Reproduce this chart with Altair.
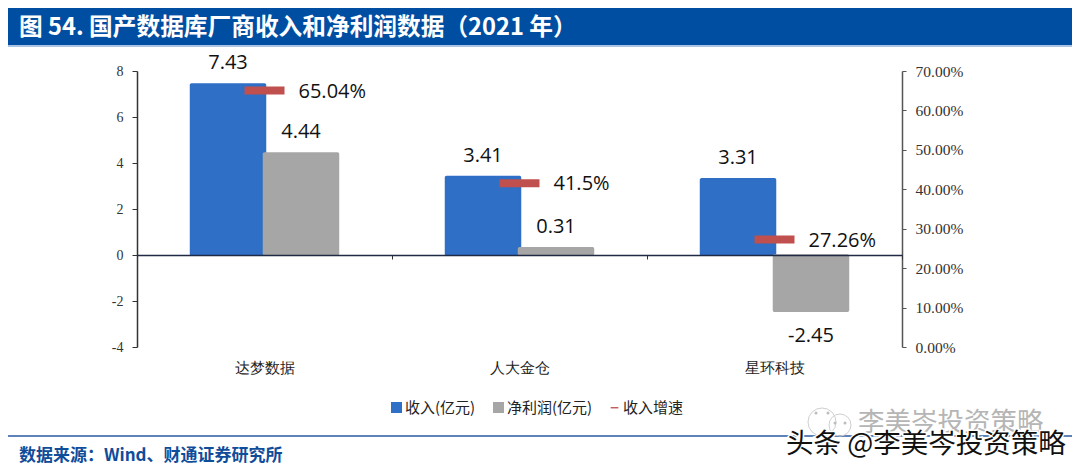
import altair as alt
import pandas as pd

categories = ["达梦数据", "人大金仓", "星环科技"]
revenue = [7.43, 3.41, 3.31]
profit = [4.44, 0.31, -2.45]
revenue_labels = ["7.43", "3.41", "3.31"]
profit_labels = ["4.44", "0.31", "-2.45"]
growth = [0.6504, 0.415, 0.2726]
growth_labels = ["65.04%", "41.5%", "27.26%"]
series_names = ["收入(亿元)", "净利润(亿元)", "收入增速"]
series_colors = ["#2f6fc6", "#a6a6a6", "#c0504d"]
title_text = "图 54. 国产数据库厂商收入和净利润数据（2021 年）"
source_text = "数据来源：Wind、财通证券研究所"
wm_grey = "李美岑投资策略"
wm_black = "头条 @李美岑投资策略"

SANS = "Open Sans, Noto Sans CJK SC"
SERIF = "Liberation Serif"

bars = pd.DataFrame(
    [{"cat": c, "s": series_names[0], "v": v, "t": t} for c, v, t in zip(categories, revenue, revenue_labels)]
    + [{"cat": c, "s": series_names[1], "v": v, "t": t} for c, v, t in zip(categories, profit, profit_labels)]
)
growth_df = pd.DataFrame({"cat": categories, "g": growth, "label": growth_labels})
legend_df = pd.DataFrame({"s": series_names})

x_scale = alt.Scale(paddingInner=0, paddingOuter=0)
x_main = alt.X("cat:N", sort=categories, title=None, scale=x_scale,
               axis=alt.Axis(domain=False, ticks=False, labelAngle=0, labelFont=SERIF, labelFontSize=15,
                             labelColor="#222222", labelPadding=13))
x_zero = alt.X("cat:N", sort=categories, title=None, scale=x_scale,
               axis=alt.Axis(orient="bottom", offset=-92, labels=False, domainColor="#1f2a44", domainWidth=1.5,
                             tickColor="#333333", tickSize=4, tickBand="extent", grid=False, zindex=1))
x_none = alt.X("cat:N", sort=categories, title=None, scale=x_scale, axis=None)
xoff = alt.XOffset("s:N", sort=series_names[:2], scale=alt.Scale(domain=series_names[:2], paddingInner=0, paddingOuter=0.747))
left_scale = alt.Scale(domain=[-4, 8], nice=False)
right_scale = alt.Scale(domain=[0, 0.7], nice=False)
y_left = alt.Y("v:Q", title=None, scale=left_scale,
               axis=alt.Axis(values=[-4, -2, 0, 2, 4, 6, 8], format="d", labelExpr="replace(datum.label, '−', '-')",
                             grid=False, domainColor="#333333", domainWidth=1.5,
                             tickColor="#333333", tickSize=5, labelFont=SERIF, labelFontSize=14,
                             labelColor="#333333", labelPadding=9))
y_none = alt.Y("v:Q", title=None, scale=left_scale, axis=None)
y_right = alt.Y("g:Q", title=None, scale=right_scale,
                axis=alt.Axis(orient="right", values=[0, .1, .2, .3, .4, .5, .6, .7], format=".2%", grid=False,
                              domainColor="#555555", domainWidth=1.5, tickColor="#555555", tickSize=4,
                              labelFont=SERIF, labelFontSize=15.5, labelColor="#333333", labelPadding=9))
y_right_none = alt.Y("g:Q", title=None, scale=right_scale, axis=None)
bar_scale = alt.Scale(domain=series_names, range=series_colors)
color = alt.Color("s:N", scale=bar_scale, legend=None)
stroke = alt.Stroke("s:N", scale=bar_scale, legend=None)

bar_layer = alt.Chart(bars).mark_bar(size=75, strokeWidth=1.5, cornerRadius=1).encode(
    x=x_main, xOffset=xoff, y=y_left, color=color, stroke=stroke)
zero_layer = alt.Chart(bars).transform_filter("datum.s == '%s'" % series_names[0]).mark_tick(opacity=0).encode(x=x_zero, y=y_none)
pos_text = alt.Chart(bars).transform_filter("datum.v >= 0").mark_text(font=SANS, fontSize=20, dy=-21, color="#111111").encode(
    x=x_none, xOffset=xoff, y=y_none, text="t:N")
neg_text = alt.Chart(bars).transform_filter("datum.v < 0").mark_text(font=SANS, fontSize=20, dy=25, color="#111111").encode(
    x=x_none, xOffset=xoff, y=y_none, text="t:N")
tick_layer = alt.Chart(growth_df).mark_tick(size=40, thickness=8, color=series_colors[2], opacity=1).encode(x=x_none, y=y_right)
gtext = alt.Chart(growth_df).mark_text(font=SANS, fontSize=20, align="left", dx=34, dy=1, color="#111111").encode(
    x=x_none, y=y_right_none, text="label:N")

leg = dict(title=None, orient="none", legendX=252, legendY=329, direction="horizontal", columns=3,
           labelFont="Noto Sans CJK SC", labelFontSize=15, labelColor="#222222",
           symbolSize=121, columnPadding=14, labelOffset=1, symbolOpacity=1)
legend_layer = alt.Chart(legend_df).transform_filter("false").mark_point(filled=True, opacity=1).encode(
    color=alt.Color("s:N", sort=series_names, scale=alt.Scale(domain=series_names, range=series_colors),
                    legend=alt.Legend(**leg)),
    shape=alt.Shape("s:N", sort=series_names,
                    scale=alt.Scale(domain=series_names, range=["square", "square", "M-0.7,-0.12H0.7V0.12H-0.7Z"]),
                    legend=alt.Legend(**leg)),
)


def rect(x, x2, y, y2, col):
    return alt.Chart(pd.DataFrame({"a": [0]})).mark_rect(color=col, clip=False).encode(
        x=alt.value(x), x2=alt.value(x2), y=alt.value(y), y2=alt.value(y2))


def label(txt, x, y, size, col, font="Noto Sans CJK SC", weight="normal", **kw):
    return alt.Chart(pd.DataFrame({"t": [txt]})).mark_text(
        text=txt, font=font, fontSize=size, color=col, fontWeight=weight, align="left", baseline="middle", **kw
    ).encode(x=alt.value(x), y=alt.value(y))


def ring(x, y, d, col, filled=False):
    return alt.Chart(pd.DataFrame({"a": [0]})).mark_point(shape="circle", size=d * d, color=col, filled=filled, strokeWidth=1, opacity=1).encode(
        x=alt.value(x), y=alt.value(y))


OX, OY = 137, 71
chart = alt.layer(
    rect(5 - OX, 1072 - OX, 6 - OY, 45 - OY, "#004ea2"),
    rect(5 - OX, 1072 - OX, 45 - OY, 47 - OY, "#a9c4e4"),
    rect(6 - OX, 1075 - OX, 435 - OY, 437 - OY, "#5f82b8"),
    label(title_text, 19 - OX, 28 - OY, 23.7, "#ffffff", weight="bold"),
    label(source_text, 19 - OX, 456 - OY, 17, "#0f4c9a", weight="bold"),
    ring(822 - OX, 422 - OY, 28, "#cfcfcf"),
    ring(840 - OX, 425 - OY, 22, "#cfcfcf"),
    ring(816 - OX, 413 - OY, 3, "#bdbdbd", True),
    ring(828 - OX, 413 - OY, 3, "#bdbdbd", True),
    ring(835 - OX, 423 - OY, 3, "#bdbdbd", True),
    ring(845 - OX, 423 - OY, 3, "#bdbdbd", True),
    label(wm_grey, 858 - OX, 423 - OY, 26.5, "#b5b5b5"),
    label(wm_black, 786 - OX, 445 - OY, 27.5, "#ffffff", stroke="#ffffff", strokeWidth=3),
    label(wm_black, 786 - OX, 445 - OY, 27.5, "#111111"),
    bar_layer, zero_layer, pos_text, neg_text, tick_layer, gtext, legend_layer,
).resolve_scale(
    y="independent", x="shared", color="independent", shape="independent", stroke="independent"
).resolve_axis(y="independent", x="independent").properties(
    width=765, height=276,
    autosize=alt.AutoSizeParams(type="none"),
    padding={"left": 129, "top": 63, "right": 170, "bottom": 117},
).configure_view(stroke=None)

chart.save("out.html", embed_options={"renderer": "svg", "actions": False})
